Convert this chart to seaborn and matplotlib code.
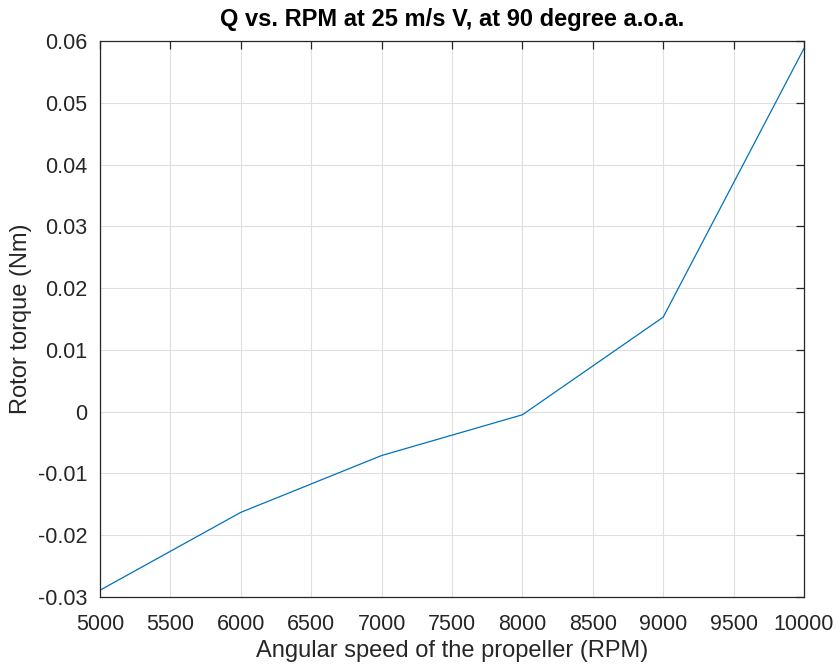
import numpy as np
import pandas as pd
import matplotlib
matplotlib.use("Agg")
import matplotlib.pyplot as plt
import seaborn as sns

# data
rpm = [5000, 6000, 7000, 8000, 9000, 10000]
torque = [-0.0289, -0.0163, -0.0071, -0.0005, 0.0153, 0.0588]

x_ticks = list(range(5000, 10001, 500))
y_ticks = [-0.03, -0.02, -0.01, 0, 0.01, 0.02, 0.03, 0.04, 0.05, 0.06]
y_tick_labels = ["-0.03", "-0.02", "-0.01", "0", "0.01", "0.02", "0.03", "0.04", "0.05", "0.06"]

df = pd.DataFrame({"rpm": rpm, "torque": torque})

sns.set_theme(style="white")
plt.rcParams["font.family"] = ["Liberation Sans", "DejaVu Sans"]

fig = plt.figure(figsize=(8.36, 6.66), dpi=100)
ax = fig.add_axes([0.1196, 0.1036, 0.8421, 0.8348])

sns.lineplot(data=df, x="rpm", y="torque", ax=ax, color="#0072BD", linewidth=0.9)

ax.set_xlim(5000, 10000)
ax.set_ylim(-0.03, 0.06)
ax.set_xticks(x_ticks)
ax.set_xticklabels([str(t) for t in x_ticks])
ax.set_yticks(y_ticks)
ax.set_yticklabels(y_tick_labels)

ax.grid(True, color="#dfdfdf", linewidth=0.8)
ax.set_axisbelow(True)
for side in ["top", "right", "bottom", "left"]:
    ax.spines[side].set_visible(True)
    ax.spines[side].set_color("#262626")
    ax.spines[side].set_linewidth(0.9)

ax.tick_params(axis="both", which="both", direction="in", length=6, width=0.9,
               top=True, right=True, labelsize=15.5, colors="#262626")
ax.tick_params(axis="x", pad=12)
ax.tick_params(axis="y", pad=9)

ax.set_xlabel("Angular speed of the propeller (RPM)", fontsize=17, color="#262626", labelpad=4)
ax.set_ylabel("Rotor torque (Nm)", fontsize=17, color="#262626", labelpad=4)
ax.set_title("Q vs. RPM at 25 m/s V, at 90 degree a.o.a.", fontsize=17,
             fontweight="bold", color="black", pad=11)

fig.savefig("out.png", dpi=100)
